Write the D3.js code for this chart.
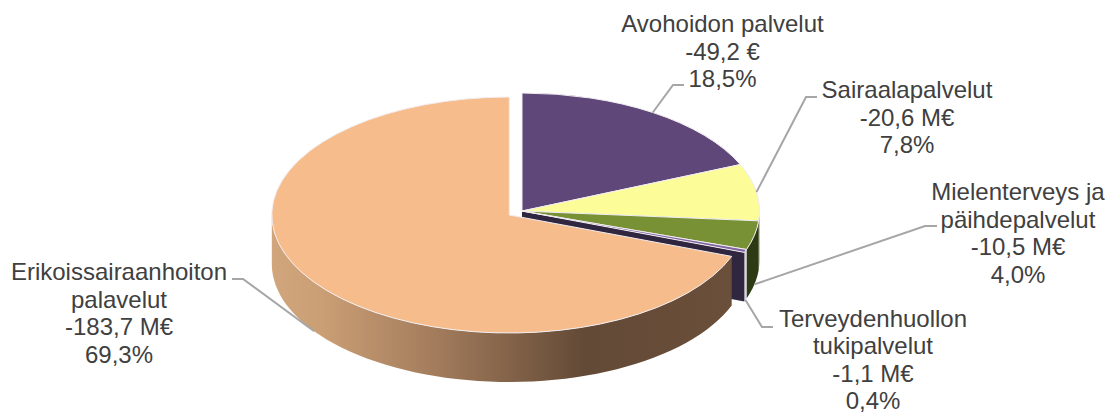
<!DOCTYPE html>
<html>
<head>
<meta charset="utf-8">
<script src="https://cdn.jsdelivr.net/npm/d3@7"></script>
<style>
html, body { margin: 0; background: #fff; }
text { font-family: "Liberation Sans", Arial, sans-serif; font-size: 24px; fill: #404040; }
</style>
</head>
<body>
<div id="chart"></div>
<script>
// chart data
var names = ['Avohoidon palvelut', 'Sairaalapalvelut', 'Mielenterveys ja päihdepalvelut', 'Terveydenhuollon tukipalvelut', 'Erikoissairaanhoiton palavelut'];
var amounts = [49.2, 20.6, 10.5, 1.1, 183.7];
var valueLabels = ['-49,2 €', '-20,6 M€', '-10,5 M€', '-1,1 M€', '-183,7 M€'];
var percentLabels = ['18,5%', '7,8%', '4,0%', '0,4%', '69,3%'];
var nameLines = [['Avohoidon palvelut'], ['Sairaalapalvelut'], ['Mielenterveys ja', 'päihdepalvelut'], ['Terveydenhuollon', 'tukipalvelut'], ['Erikoissairaanhoiton', 'palavelut']];

// colours per slice
var topColors = ['#5F4879', '#FCFC98', '#789135', '#8064A2', '#F7BC8C'];
var wallColors = ['#3A2C4A', '#8F8F50', '#2D3A14', '#D8D4E0', 'url(#orangeWall)'];

var width = 1113,
    height = 414,
    rx = 237.5,
    ry = 118,
    depth = 49;

// the big slice is pulled out of the pie
var centers = [[522, 211], [522, 211], [522, 211], [522, 211], [509.3, 215]];

// label layout: centre x, first baseline, leader elbow and end, leader on wall?
var labelX = [722.5, 907, 1018, 873, 119];
var labelY = [32, 98, 200, 326.5, 280];
var lineStep = 27.6;
var elbows = [[673, 85], [806, 97], [925, 226], [762, 327], [243, 279]];
var leaderEnds = [[684, 85], [817, 97], [937, 226], [773, 327], [232, 279]];
var onWall = [false, false, true, true, true];

var svg = d3.select('#chart')
    .append('svg')
        .attr('width', width)
        .attr('height', height);

var grad = svg.append('defs').append('linearGradient')
    .attr('id', 'orangeWall')
    .attr('gradientUnits', 'userSpaceOnUse')
    .attr('x1', 270).attr('x2', 732)
    .attr('y1', 0).attr('y2', 0);
grad.append('stop').attr('offset', '0%').attr('stop-color', '#D2A67C');
grad.append('stop').attr('offset', '11%').attr('stop-color', '#CB9F75');
grad.append('stop').attr('offset', '35%').attr('stop-color', '#A47D5D');
grad.append('stop').attr('offset', '68%').attr('stop-color', '#634A36');
grad.append('stop').attr('offset', '100%').attr('stop-color', '#6A4F3A');

var slices = d3.pie().sort(null)(amounts);

function project(i, angle, down) {
    return [centers[i][0] + rx * Math.sin(angle),
            centers[i][1] - ry * Math.cos(angle) + (down || 0)];
}

var arc = d3.arc().innerRadius(0).outerRadius(rx);
var line = d3.line();

// outer wall of a slice, only the part that faces the viewer
function wallPath(i) {
    var a0 = Math.max(slices[i].startAngle, Math.PI / 2),
        a1 = Math.min(slices[i].endAngle, Math.PI * 1.5);
    if (a1 <= a0) return null;
    var steps = d3.range(0, 61).map(function (k) { return a0 + (a1 - a0) * k / 60; });
    var upper = steps.map(function (a) { return project(i, a, 0); }),
        lower = steps.slice().reverse().map(function (a) { return project(i, a, depth); });
    return line(upper.concat(lower)) + 'Z';
}

// walls, right side first so the big slice ends on top
svg.selectAll('path.wall')
    .data([1, 2, 3])
    .enter()
    .append('path')
        .attr('class', 'wall')
        .attr('d', function (i) { return wallPath(i); })
        .attr('fill', function (i) { return wallColors[i]; });

// cut face of the thin slice, seen through the gap to the big slice
var cutAngle = slices[3].endAngle;
svg.append('path')
    .attr('d', line([project(3, cutAngle, 0), project(3, cutAngle, depth), [centers[3][0], centers[3][1] + depth], centers[3]]) + 'Z')
    .attr('fill', '#30263F');

svg.append('path')
    .attr('d', wallPath(4))
    .attr('fill', wallColors[4]);

// top faces
svg.selectAll('path.top')
    .data(slices)
    .enter()
    .append('path')
        .attr('class', 'top')
        .attr('transform', function (d, i) {
            return 'translate(' + centers[i][0] + ',' + centers[i][1] + ') scale(1,' + (ry / rx) + ')';
        })
        .attr('d', arc)
        .attr('fill', function (d, i) { return topColors[i]; })
        .attr('stroke', '#F1EDF0')
        .attr('stroke-width', 1)
        .attr('vector-effect', 'non-scaling-stroke');

// leader lines start from the middle of each slice
svg.selectAll('path.leader')
    .data(slices)
    .enter()
    .append('path')
        .attr('class', 'leader')
        .attr('d', function (d, i) {
            var mid = (d.startAngle + d.endAngle) / 2;
            return line([project(i, mid, onWall[i] ? depth : 0), elbows[i], leaderEnds[i]]);
        })
        .attr('fill', 'none')
        .attr('stroke', '#A6A6A6')
        .attr('stroke-width', 2);

// data labels
var labels = svg.selectAll('text')
    .data(names)
    .enter()
    .append('text')
        .attr('text-anchor', 'middle')
        .attr('y', function (d, i) { return labelY[i]; });

labels.selectAll('tspan')
    .data(function (d, i) { return nameLines[i].concat([valueLabels[i], percentLabels[i]]).map(function (t) { return { t: t, i: i }; }); })
    .enter()
    .append('tspan')
        .attr('x', function (d) { return labelX[d.i]; })
        .attr('dy', function (d, k) { return k === 0 ? 0 : lineStep; })
        .text(function (d) { return d.t; });
</script>
</body>
</html>
